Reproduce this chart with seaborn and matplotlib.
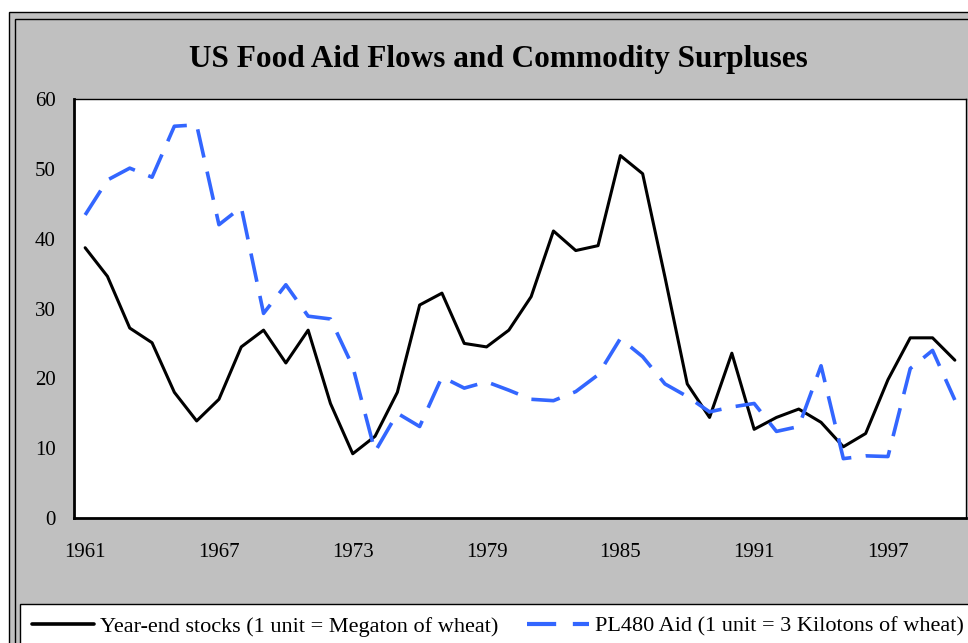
import matplotlib
matplotlib.use("Agg")
import matplotlib.pyplot as plt
from matplotlib.patches import Rectangle
from matplotlib.lines import Line2D
import seaborn as sns
import pandas as pd
import numpy as np

years = list(range(1961, 2001))
stocks = [38.7, 34.6, 27.2, 25.1, 18.0, 13.9, 17.0, 24.5, 26.9, 22.2,
          26.9, 16.4, 9.2, 11.7, 18.0, 30.5, 32.2, 25.0, 24.5, 26.9,
          31.7, 41.1, 38.3, 39.0, 51.9, 49.3, 34.5, 19.2, 14.4, 23.6,
          12.7, 14.4, 15.6, 13.7, 10.2, 12.1, 19.8, 25.8, 25.8, 22.6]
aid = [43.4, 48.4, 50.1, 48.8, 56.1, 56.3, 42.0, 44.5, 29.3, 33.4,
       28.9, 28.5, 21.7, 9.5, 15.0, 13.1, 20.2, 18.6, 19.5, 18.3,
       17.0, 16.8, 18.1, 20.5, 25.7, 23.1, 19.2, 17.4, 15.2, 15.9,
       16.4, 12.4, 13.1, 21.8, 8.5, 8.9, 8.8, 21.4, 24.0, 16.9]
label_years = [1961, 1967, 1973, 1979, 1985, 1991, 1997]
y_ticks = [0, 10, 20, 30, 40, 50, 60]
title = "US Food Aid Flows and Commodity Surpluses"
name_stocks = "Year-end stocks (1 unit = Megaton of wheat)"
name_aid = "PL480 Aid (1 unit = 3 Kilotons of wheat)"

df = pd.DataFrame({"year": years, "stocks": stocks, "aid": aid})

sns.set_style("white")
plt.rcParams["font.family"] = ["Liberation Serif", "DejaVu Serif"]
plt.rcParams["text.color"] = "black"
plt.rcParams["xtick.color"] = "black"
plt.rcParams["ytick.color"] = "black"
plt.rcParams["xtick.labelcolor"] = "black"
plt.rcParams["ytick.labelcolor"] = "black"

W, H = 968, 643
fig = plt.figure(figsize=(W / 100, H / 100), dpi=100, facecolor="white")

def fx(px):
    return px / W

def fy(py):
    return 1 - py / H

# outer chart-area frame (gray) and inner double line
fig.patches.append(Rectangle((fx(9), -0.2), 1.3, fy(12) + 0.2, transform=fig.transFigure,
                             facecolor="#c0c0c0", edgecolor="black", lw=1.0, zorder=-2))
fig.patches.append(Rectangle((fx(15.5), -0.2), 1.3, fy(19) + 0.2, transform=fig.transFigure,
                             facecolor="none", edgecolor="black", lw=1.0, zorder=-1))

ax = fig.add_axes([fx(74), fy(518), fx(966) - fx(74), fy(99) - fy(518)])
ax.set_facecolor("white")

sns.lineplot(data=df, x="year", y="stocks", ax=ax, color="black", lw=2.2,
             label=name_stocks, legend=False)
sns.lineplot(data=df, x="year", y="aid", ax=ax, color="#3366FF", lw=2.6,
             label=name_aid, legend=False)
ax.lines[1].set_dashes([8, 4])

ax.set_xlim(years[0] - 0.5, years[-1] + 0.5)
ax.set_ylim(0, 60)
ax.set_yticks(y_ticks)
ax.set_yticklabels([str(v) for v in y_ticks])
ax.set_xticks(label_years)
ax.set_xticklabels([str(v) for v in label_years])
ax.set_xticks(np.arange(years[0] - 0.5, years[-1] + 1.0, 1.0), minor=True)
ax.tick_params(axis="x", which="major", length=0, pad=18, labelsize=15, labelcolor="black")
ax.tick_params(axis="x", which="minor", length=6, width=1.2, direction="out", color="black")
ax.tick_params(axis="y", which="major", length=6, width=1.2, direction="out", pad=7,
               labelsize=15, color="black", labelcolor="black")
ax.set_xlabel("")
ax.set_ylabel("")
for s in ["left", "bottom"]:
    ax.spines[s].set_linewidth(2.0)
    ax.spines[s].set_color("black")
for s in ["top", "right"]:
    ax.spines[s].set_linewidth(1.0)
    ax.spines[s].set_color("black")

fig.text(fx(498), fy(60), title, ha="center", va="center", fontsize=22.5,
         fontweight="bold", color="black")

handles = [Line2D([], [], color="black", lw=2.6),
           Line2D([], [], color="#3366FF", lw=3.0, dashes=[7, 4])]
leg = fig.legend(handles, [name_stocks, name_aid], loc="upper left",
                 bbox_to_anchor=(fx(20), fy(604)), bbox_transform=fig.transFigure,
                 ncol=2, fontsize=16, frameon=True, fancybox=False, shadow=False,
                 handlelength=2.8, handletextpad=0.27, columnspacing=1.26,
                 borderpad=0.55, borderaxespad=0.0)
leg.get_frame().set_edgecolor("black")
leg.get_frame().set_linewidth(1.0)
leg.get_frame().set_facecolor("white")
leg.get_frame().set_alpha(1.0)
for t in leg.get_texts():
    t.set_color("black")

fig.savefig("out.png", dpi=100, facecolor="white")
